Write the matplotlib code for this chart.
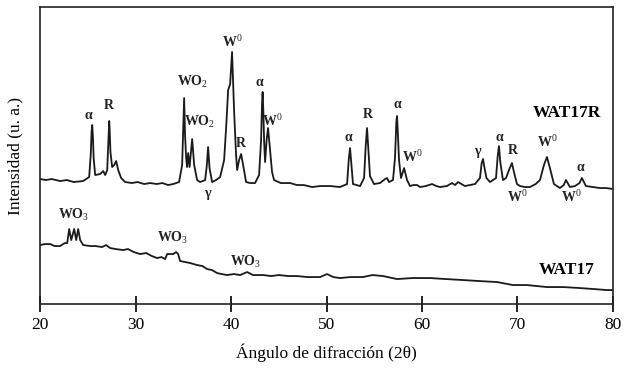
import matplotlib.pyplot as plt

plt.rcParams['font.family'] = ['Liberation Serif', 'DejaVu Serif']
plt.rcParams['mathtext.fontset'] = 'custom'
plt.rcParams['mathtext.rm'] = 'Liberation Serif'
plt.rcParams['mathtext.bf'] = 'Liberation Serif:bold'

# WAT17R pattern (2theta, intensity in a.u.)
wat17r_2theta = [20.00, 20.60, 21.20, 22.09, 22.80, 23.50, 24.50, 25.13, 25.30, 25.38,
                 25.45, 25.52, 25.60, 25.76, 26.28, 26.60, 26.81, 27.02, 27.12, 27.19,
                 27.23, 27.28, 27.36, 27.54, 27.75, 27.96, 28.17, 28.48, 28.90, 29.60,
                 30.20, 30.90, 31.52, 32.20, 32.80, 33.40, 33.93, 34.55, 34.87, 35.00,
                 35.08, 35.17, 35.29, 35.39, 35.50, 35.65, 35.82, 35.92, 36.02, 36.13,
                 36.44, 36.75, 37.28, 37.45, 37.59, 37.74, 38.01, 38.43, 38.85, 39.27,
                 39.50, 39.69, 39.90, 40.03, 40.10, 40.18, 40.31, 40.52, 40.63, 40.84,
                 41.05, 41.26, 41.57, 42.00, 42.51, 42.93, 43.14, 43.24, 43.30, 43.37,
                 43.46, 43.56, 43.72, 43.87, 44.08, 44.29, 44.50, 45.20, 46.18, 46.90,
                 47.60, 48.50, 49.32, 50.40, 51.41, 52.15, 52.33, 52.46, 52.60, 52.77,
                 53.51, 53.93, 54.10, 54.24, 54.38, 54.55, 54.97, 55.60, 56.13, 56.34,
                 56.54, 56.96, 57.17, 57.31, 57.38, 57.45, 57.59, 57.80, 58.12, 58.43,
                 58.74, 59.10, 59.48, 59.79, 60.40, 61.05, 61.50, 61.88, 62.60, 63.14,
                 63.46, 63.77, 64.50, 65.00, 65.55, 66.07, 66.25, 66.39, 66.55, 66.75,
                 67.12, 67.75, 67.93, 68.06, 68.20, 68.48, 68.80, 69.11, 69.42, 69.63,
                 69.95, 70.26, 70.80, 71.31, 71.90, 72.36, 72.77, 73.09, 73.40, 73.82,
                 74.45, 74.85, 75.08, 75.50, 76.02, 76.50, 76.75, 77.17, 77.90, 78.64,
                 79.30, 80.00]
wat17r_int = [125, 124, 125, 123, 124, 122, 123, 127, 150, 172,
              179, 168, 146, 129, 130, 133, 129, 134, 158, 176,
              183, 174, 152, 137, 139, 143, 134, 126, 122, 121,
              122, 120, 121, 120, 121, 119, 120, 122, 139, 180,
              206, 170, 146, 137, 151, 137, 155, 165, 152, 139,
              124, 122, 124, 138, 157, 136, 122, 124, 127, 144,
              180, 214, 220, 240, 252, 230, 194, 149, 134, 144,
              150, 139, 122, 121, 121, 129, 164, 200, 212, 195,
              162, 142, 164, 176, 154, 132, 124, 121, 121, 119,
              119, 117, 118, 118, 117, 120, 145, 156, 140, 120,
              118, 126, 158, 176, 155, 128, 120, 121, 125, 126,
              122, 124, 146, 182, 188, 175, 144, 126, 136, 124,
              118, 119, 119, 117, 118, 120, 118, 117, 118, 121,
              119, 122, 118, 119, 120, 126, 141, 145, 136, 126,
              122, 126, 148, 158, 142, 124, 126, 134, 141, 132,
              120, 118, 117, 117, 120, 124, 139, 147, 136, 120,
              116, 119, 124, 117, 118, 121, 126, 118, 117, 116,
              116, 115]

# WAT17 pattern
wat17_2theta = [20.00, 20.50, 21.05, 21.50, 22.09, 22.40, 22.62, 22.83, 23.04, 23.25,
                23.56, 23.77, 23.98, 24.19, 24.50, 25.24, 25.80, 26.49, 26.90, 27.33,
                27.90, 28.69, 29.20, 29.80, 30.47, 31.10, 31.70, 32.25, 32.70, 33.09,
                33.30, 33.93, 34.24, 34.45, 34.66, 35.20, 35.71, 36.44, 37.00, 37.49,
                38.00, 38.53, 39.00, 39.58, 40.30, 40.94, 41.68, 42.30, 43.35, 44.20,
                45.00, 46.00, 46.91, 48.00, 49.32, 50.05, 50.70, 51.41, 52.50, 53.82,
                54.80, 55.92, 57.38, 59.00, 60.84, 62.50, 64.29, 66.00, 67.85, 69.53,
                71.00, 73.09, 74.80, 76.54, 78.00, 79.37, 80.00]
wat17_int = [59, 60, 60, 58, 58, 60, 61, 61, 75, 64,
             75, 64, 75, 64, 59, 58, 58, 57, 59, 56,
             55, 54, 55, 52, 50, 51, 48, 46, 47, 45,
             50, 50, 52, 50, 43, 42, 41, 39, 38, 35,
             34, 31, 30, 29, 30, 29, 32, 29, 29, 28,
             29, 28, 28, 27, 27, 30, 27, 26, 27, 27,
             29, 28, 25, 26, 26, 25, 24, 23, 22, 19,
             19, 17, 17, 16, 15, 14, 14]

# peak labels: (text, 2theta, intensity)
wat17r_labels = [("α", 25.03, 189), ("R", 27.23, 199), ("WO$_2$", 35.92, 222),
                 ("WO$_2$", 36.65, 182), ("γ", 37.49, 111), ("W$^0$", 40.10, 262),
                 ("R", 41.05, 161), ("α", 42.93, 222), ("W$^0$", 44.29, 183),
                 ("α", 52.25, 167), ("R", 54.35, 190), ("α", 57.38, 200),
                 ("W$^0$", 58.95, 147), ("γ", 65.76, 153), ("α", 68.06, 167),
                 ("R", 69.53, 154), ("W$^0$", 73.09, 162), ("α", 76.54, 137),
                 ("W$^0$", 69.95, 107), ("W$^0$", 75.60, 107)]
wat17_labels = [("WO$_3$", 23.46, 89), ("WO$_3$", 33.82, 66), ("WO$_3$", 41.47, 42)]


def make_xrd_plot():
    fig = plt.figure(figsize=(6.28, 3.69), dpi=100)
    ax = fig.add_axes([0.064, 0.176, 0.912, 0.805])

    ax.plot(wat17r_2theta, wat17r_int, color='#1a1a1a', linewidth=1.3)
    ax.plot(wat17_2theta, wat17_int, color='#1a1a1a', linewidth=1.3)

    for text, x, y in wat17r_labels + wat17_labels:
        ax.text(x, y, text, ha='center', va='center', fontsize=10,
                fontweight='bold', color='#222222')

    ax.text(75.2, 191, "WAT17R", ha='center', va='center', fontsize=12.5,
            fontweight='bold')
    ax.text(75.1, 34, "WAT17", ha='center', va='center', fontsize=12.5,
            fontweight='bold')

    ax.set_xlim(20, 80)
    ax.set_ylim(0, 297)
    ax.set_xticks([20, 30, 40, 50, 60, 70, 80])
    ax.set_yticks([])
    ax.tick_params(axis='x', direction='inout', length=12, width=1.2,
                   labelsize=12.5, pad=3)
    for spine in ax.spines.values():
        spine.set_linewidth(1.2)
        spine.set_color('#222222')

    ax.set_xlabel("Ángulo de difracción (2θ)", fontsize=12.5, labelpad=8)
    ax.set_ylabel("Intensidad (u. a.)", fontsize=12.5, labelpad=12)

    fig.savefig("out.png", dpi=100)


if __name__ == "__main__":
    make_xrd_plot()
